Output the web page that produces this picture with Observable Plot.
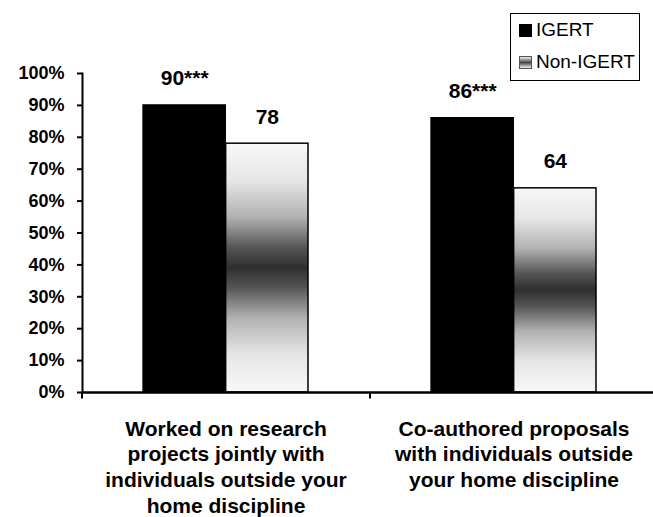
<!DOCTYPE html>
<html>
<head>
<meta charset="utf-8">
<script src="https://cdn.jsdelivr.net/npm/d3@7"></script>
<script src="https://cdn.jsdelivr.net/npm/@observablehq/plot@0.6"></script>
<style>
  html, body { margin: 0; padding: 0; background: #ffffff; }
  #wrap { position: relative; width: 653px; height: 517px; overflow: hidden; font-family: "Liberation Sans", Arial, sans-serif; }
  #legend { position: absolute; left: 510px; top: 13px; width: 128px; height: 66px; border: 1.5px solid #000; background: #fff; }
  .item { position: absolute; left: 8px; display: flex; align-items: center; font-size: 19px; color: #000; }
  .sw { width: 13px; height: 13px; margin-right: 4px; box-sizing: border-box; }
</style>
</head>
<body>
<div id="wrap"></div>
<script>
// ---- data ----
const categories = [
  "Worked on research projects jointly with individuals outside your home discipline",
  "Co-authored proposals with individuals outside your home discipline"
];
const categoryLabels = [
  "Worked on research\nprojects jointly with\nindividuals outside your\nhome discipline",
  "Co-authored proposals\nwith individuals outside\nyour home discipline"
];
const series = ["IGERT", "Non-IGERT"];
const igertValues = [90, 86];
const nonIgertValues = [78, 64];
const igertSignificance = ["***", "***"];
const yTicks = [0, 10, 20, 30, 40, 50, 60, 70, 80, 90, 100];

// ---- tables ----
const igertRows = categories.map((c, i) => ({category: c, value: igertValues[i], label: igertValues[i] + igertSignificance[i]}));
const nonRows = categories.map((c, i) => ({category: c, value: nonIgertValues[i], label: String(nonIgertValues[i])}));

// ---- layout ----
const xRange = [82, 658];
const padInner = 0.426, padOuter = 0.213;
const step = (xRange[1] - xRange[0]) / (categories.length - padInner + 2 * padOuter);
const bw = step * (1 - padInner);

const chart = Plot.plot({
  width: 653,
  height: 517,
  marginLeft: 82,
  marginRight: 0,
  marginTop: 73,
  marginBottom: 125,
  style: {fontFamily: "'Liberation Sans', Arial, sans-serif", fontSize: "18px", fontWeight: "bold", color: "#000", background: "#fff"},
  x: {domain: categories, range: xRange, paddingInner: padInner, paddingOuter: padOuter, axis: null},
  y: {domain: [0, 100]},
  marks: [
    Plot.barY(igertRows, {x: "category", y: "value", fill: "#000", stroke: "#000", strokeWidth: 1.3, insetRight: bw / 2}),
    Plot.barY(nonRows, {x: "category", y: "value", fill: "url(#nonIgertGrad)", stroke: "#000", strokeWidth: 1.5, insetLeft: bw / 2}),
    Plot.frame({anchor: "left", stroke: "#000", strokeWidth: 2}),
    Plot.frame({anchor: "bottom", stroke: "#000", strokeWidth: 2.5}),
    Plot.ruleX(categories, {x: d => d, y1: 0, y2: -2, dx: -step / 2, stroke: "#000", strokeWidth: 2}),
    Plot.axisY({ticks: yTicks, tickFormat: d => d + "%", tickSize: 5, tickPadding: 13, strokeWidth: 2, label: null}),
    Plot.text(igertRows, {x: "category", y: "value", text: "label", dx: -bw / 4, dy: -20, lineAnchor: "bottom", fontSize: 21, fontWeight: "bold", fill: "#000"}),
    Plot.text(nonRows, {x: "category", y: "value", text: "label", dx: bw / 4, dy: -20, lineAnchor: "bottom", fontSize: 21, fontWeight: "bold", fill: "#000"}),
    Plot.text(categoryLabels, {x: categories, text: d => d, frameAnchor: "bottom", lineAnchor: "top", dy: 25, fontSize: 21, fontWeight: "bold", lineHeight: 1.22, fill: "#000"})
  ]
});

// gradient for Non-IGERT bars
const ns = "http://www.w3.org/2000/svg";
const defs = document.createElementNS(ns, "defs");
const grad = document.createElementNS(ns, "linearGradient");
grad.setAttribute("id", "nonIgertGrad");
grad.setAttribute("x1", "0"); grad.setAttribute("y1", "0");
grad.setAttribute("x2", "0"); grad.setAttribute("y2", "1");
[[0, "#f8f8f8"], [0.15, "#e6e6e6"], [0.3, "#b0b0b0"], [0.42, "#555555"], [0.5, "#2e2e2e"], [0.58, "#555555"], [0.7, "#b0b0b0"], [0.85, "#e6e6e6"], [1, "#f8f8f8"]].forEach(([o, c]) => {
  const s = document.createElementNS(ns, "stop");
  s.setAttribute("offset", o);
  s.setAttribute("stop-color", c);
  grad.appendChild(s);
});
defs.appendChild(grad);
chart.insertBefore(defs, chart.firstChild);

const wrap = document.getElementById("wrap");
wrap.appendChild(chart);

// legend
const legend = document.createElement("div");
legend.id = "legend";
const swatchStyles = [
  "background:#000;",
  "background:linear-gradient(#f0f0f0,#444 50%,#f0f0f0);border:1px solid #555;"
];
const rowTops = [18, 50];
series.forEach((name, i) => {
  const it = document.createElement("div");
  it.className = "item";
  it.style.top = (rowTops[i] - 13) + "px";
  const sw = document.createElement("span");
  sw.className = "sw";
  sw.setAttribute("style", swatchStyles[i]);
  const tx = document.createElement("span");
  tx.textContent = name;
  it.appendChild(sw);
  it.appendChild(tx);
  legend.appendChild(it);
});
wrap.appendChild(legend);
</script>
</body>
</html>
